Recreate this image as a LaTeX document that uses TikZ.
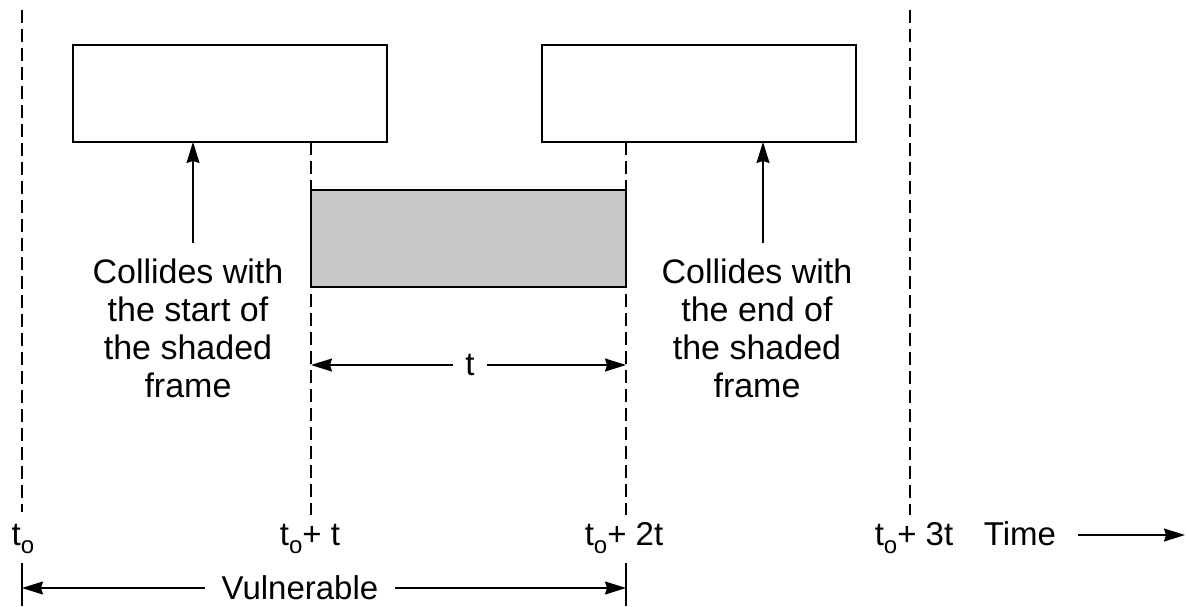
\documentclass[tikz,border=0pt]{standalone}
\usepackage{fontspec}
\setmainfont{Liberation Sans}
\usetikzlibrary{arrows.meta}
\newcommand\subo{\raisebox{-8pt}{\fontsize{24}{24}\selectfont o}}
\begin{document}
\begin{tikzpicture}[x=1pt,y=-1pt,
  framebox/.style={draw, line width=1.8pt, minimum width=314pt, minimum height=97pt, inner sep=0pt, outer sep=0pt, anchor=north west},
  vline/.style={line width=1.8pt, dash pattern=on 13pt off 6pt},
  tick/.style={line width=1.8pt},
  arr/.style={-{Stealth[length=21pt,width=13pt,inset=2pt]}, line width=1.6pt},
  lab/.style={font=\fontsize{33}{35}\selectfont, inner sep=0pt},
  coll/.style={font=\fontsize{34}{38}\selectfont, inner sep=0pt, align=center, anchor=north}
]
\useasboundingbox (0,0) rectangle (1189,606);

% frames
\node[framebox] (b1) at (73,45) {};
\node[framebox] (b2) at (542,45) {};
\node[framebox, minimum width=315pt, fill={rgb,255:red,200;green,200;blue,200}] (sh) at (311,190) {};

% dashed time lines
\coordinate (d0t) at (22,10);   \coordinate (d0b) at (22,512);
\coordinate (d1t) at (311,142); \coordinate (d1b) at (311,515);
\coordinate (d2t) at (626,142); \coordinate (d2b) at (626,515);
\coordinate (d3t) at (910,10);  \coordinate (d3b) at (910,515);
\draw[vline] (d0t) -- (d0b);
\draw[vline] (d1t) -- (d1b);
\draw[vline] (d2t) -- (d2b);
\draw[vline] (d3t) -- (d3b);

% collision notes
\node[coll] (c1) at (188,259) {Collides with\\the start of\\the shaded\\frame};
\node[coll] (c2) at (757,259) {Collides with\\the end of\\the shaded\\frame};
\coordinate (a1) at (193,243);
\coordinate (a2) at (763,243);
\draw[arr] (a1) -- (a1 |- b1.south);
\draw[arr] (a2) -- (a2 |- b2.south);

% t interval
\node[lab, inner xsep=12pt] (tl) at (470,365) {t};
\draw[arr] (tl.west) -- (tl.west -| d1t);
\draw[arr] (tl.east) -- (tl.east -| d2t);

% time labels
\node[lab, anchor=base] (l0) at (23,545) {t\subo};
\node[lab, anchor=base] (l1) at (310,545) {t\subo+ t};
\node[lab, anchor=base] (l2) at (624,545) {t\subo+ 2t};
\node[lab, anchor=base] (l3) at (914,545) {t\subo+ 3t};
\node[lab, anchor=base] (tm) at (1020,545) {Time};
\coordinate (tmA) at (1078,535);
\coordinate (tmB) at (1185,535);
\draw[arr] (tmA) -- (tmB);

% vulnerable
\coordinate (v0t) at (22,563); \coordinate (v0b) at (22,606);
\coordinate (v2t) at (626,563); \coordinate (v2b) at (626,606);
\draw[tick] (v0t) -- (v0b);
\draw[tick] (v2t) -- (v2b);
\node[lab, inner xsep=17pt] (vu) at (300,588) {Vulnerable};
\draw[arr] (vu.west) -- (vu.west -| v0t);
\draw[arr] (vu.east) -- (vu.east -| v2t);
\end{tikzpicture}
\end{document}
